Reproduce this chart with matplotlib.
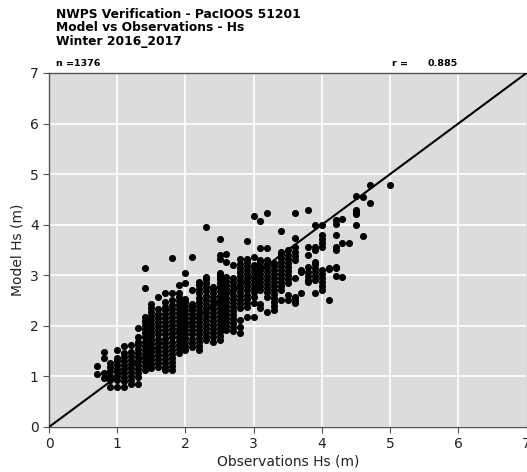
import matplotlib
matplotlib.use("Agg")
import matplotlib.pyplot as plt

# Observed Hs columns (m) and the model Hs values read at each column
obs_hs = [0.7, 0.8, 0.9, 1.0, 1.1, 1.2, 1.3, 1.4, 1.5, 1.6, 1.7, 1.8, 1.9,
          2.0, 2.1, 2.2, 2.3, 2.4, 2.5, 2.6, 2.7, 2.8, 2.9, 3.0, 3.1, 3.2,
          3.3, 3.4, 3.5, 3.6, 3.7, 3.8, 3.9, 4.0, 4.1, 4.2, 4.3, 4.4, 4.5,
          4.6, 4.7, 5.0]

model_hs = [
    [1.05, 1.2],
    [0.97, 1.06, 1.36, 1.49],
    [0.8, 0.93, 1.0, 1.1, 1.18, 1.26],
    [0.8, 0.93, 1.0, 1.08, 1.15, 1.22, 1.3, 1.36, 1.53],
    [0.8, 0.9, 0.98, 1.06, 1.14, 1.22, 1.3, 1.38, 1.46, 1.6],
    [0.86, 0.93, 1.01, 1.09, 1.17, 1.25, 1.33, 1.41, 1.49, 1.62],
    [0.86, 0.99, 1.07, 1.15, 1.23, 1.31, 1.39, 1.47, 1.55, 1.62, 1.69, 1.78, 1.95],
    [1.13, 1.21, 1.29, 1.37, 1.45, 1.53, 1.61, 1.69, 1.77, 1.85, 1.93, 2.01, 2.09, 2.18, 2.74, 3.14],
    [1.16, 1.24, 1.32, 1.4, 1.48, 1.56, 1.64, 1.72, 1.8, 1.88, 1.96, 2.04, 2.12, 2.2, 2.28, 2.36, 2.44],
    [1.19, 1.27, 1.35, 1.43, 1.51, 1.59, 1.67, 1.75, 1.83, 1.91, 1.99, 2.07, 2.15, 2.23, 2.33, 2.58],
    [1.13, 1.19, 1.27, 1.35, 1.43, 1.51, 1.59, 1.67, 1.75, 1.83, 1.91, 1.99, 2.07, 2.15, 2.23, 2.31, 2.38, 2.48, 2.64],
    [1.13, 1.21, 1.29, 1.37, 1.45, 1.53, 1.61, 1.69, 1.77, 1.85, 1.93, 2.01, 2.09, 2.17, 2.25, 2.33, 2.42, 2.51, 2.64, 3.35],
    [1.46, 1.54, 1.62, 1.7, 1.78, 1.86, 1.94, 2.02, 2.1, 2.18, 2.26, 2.34, 2.42, 2.5, 2.57, 2.64, 2.81],
    [1.52, 1.6, 1.68, 1.76, 1.84, 1.92, 2.0, 2.08, 2.16, 2.24, 2.32, 2.4, 2.47, 2.54, 2.84, 3.04],
    [1.59, 1.67, 1.75, 1.83, 1.91, 1.99, 2.07, 2.15, 2.23, 2.31, 2.38, 2.44, 2.71, 3.37],
    [1.52, 1.6, 1.68, 1.76, 1.84, 1.92, 2.0, 2.08, 2.16, 2.24, 2.32, 2.4, 2.48, 2.56, 2.64, 2.72, 2.8, 2.87],
    [1.72, 1.8, 1.88, 1.96, 2.04, 2.12, 2.2, 2.28, 2.36, 2.44, 2.52, 2.6, 2.68, 2.76, 2.84, 2.92, 2.97, 3.96],
    [1.69, 1.77, 1.85, 1.93, 2.01, 2.09, 2.17, 2.25, 2.33, 2.41, 2.49, 2.57, 2.65, 2.72, 2.77],
    [1.72, 1.8, 1.88, 1.96, 2.04, 2.12, 2.2, 2.28, 2.36, 2.44, 2.52, 2.6, 2.68, 2.76, 2.84, 2.92, 2.98, 3.04, 3.33, 3.4, 3.71],
    [1.92, 2.0, 2.08, 2.16, 2.24, 2.32, 2.4, 2.48, 2.56, 2.64, 2.72, 2.8, 2.88, 2.97, 3.27, 3.43],
    [1.9, 1.98, 2.06, 2.14, 2.22, 2.3, 2.38, 2.46, 2.54, 2.62, 2.7, 2.78, 2.86, 2.94, 3.2],
    [1.85, 1.98, 2.12, 2.35, 2.43, 2.51, 2.59, 2.67, 2.75, 2.83, 2.91, 2.99, 3.07, 3.15, 3.23, 3.33],
    [2.18, 2.38, 2.46, 2.54, 2.62, 2.7, 2.78, 2.86, 2.94, 3.02, 3.1, 3.18, 3.26, 3.33, 3.68],
    [2.18, 2.45, 2.58, 2.66, 2.74, 2.82, 2.9, 2.98, 3.06, 3.14, 3.2, 3.37, 4.17],
    [2.35, 2.44, 2.71, 2.79, 2.87, 2.95, 3.03, 3.11, 3.19, 3.27, 3.3, 3.53, 4.08],
    [2.28, 2.58, 2.66, 2.74, 2.82, 2.9, 2.98, 3.06, 3.14, 3.22, 3.3, 3.53, 4.24],
    [2.31, 2.39, 2.47, 2.55, 2.63, 2.71, 2.79, 2.87, 2.95, 3.03, 3.11, 3.19, 3.24],
    [2.51, 2.71, 2.79, 2.87, 2.95, 3.03, 3.11, 3.19, 3.27, 3.35, 3.43, 3.46, 3.88],
    [2.51, 2.61, 2.84, 2.92, 3.0, 3.08, 3.16, 3.24, 3.32, 3.4, 3.5],
    [2.45, 2.51, 2.58, 2.94, 3.3, 3.38, 3.46, 3.56, 3.73, 4.24],
    [2.64, 3.07, 3.1],
    [2.87, 2.9, 2.98, 3.06, 3.17, 3.4, 3.56, 4.29],
    [2.64, 2.9, 2.98, 3.06, 3.14, 3.22, 3.27, 3.5, 3.56, 3.99],
    [2.71, 2.79, 2.87, 2.95, 3.03, 3.1, 3.56, 3.64, 3.72, 3.79, 3.99],
    [2.51, 3.12, 3.14],
    [2.98, 3.14, 3.17, 3.5, 3.56, 3.79, 4.02, 4.09],
    [2.97, 3.63, 4.11],
    [3.63],
    [3.99, 4.22, 4.25, 4.29, 4.56],
    [3.77, 4.54],
    [4.43, 4.78],
    [4.78],
]

axis_ticks = [0, 1, 2, 3, 4, 5, 6, 7]
title_lines = ["NWPS Verification - PacIOOS 51201",
               "Model vs Observations - Hs",
               "Winter 2016_2017"]
n_obs = 1376
r_value = 0.885

xs, ys = [], []
for xo, col in zip(obs_hs, model_hs):
    for v in col:
        xs.append(xo)
        ys.append(v)

W, H = 527, 472
fig = plt.figure(figsize=(W / 100, H / 100), dpi=100)
left, right, top, bottom = 49, 526.5, 73, 427
ax = fig.add_axes([left / W, (H - bottom) / H, (right - left) / W, (bottom - top) / H])
ax.set_facecolor("#DCDCDC")
ax.set_xlim(0, 7)
ax.set_ylim(0, 7)
ax.set_xticks(axis_ticks)
ax.set_yticks(axis_ticks)
ax.grid(True, color="white", linewidth=1.2)
ax.set_axisbelow(True)
for s in ax.spines.values():
    s.set_color("#555555")
    s.set_linewidth(1.0)
ax.tick_params(direction="out", length=4, color="#555555", labelsize=10,
               labelcolor="#222222")

ax.scatter(xs, ys, s=26, color="black", zorder=3, linewidths=0)
ax.plot([0, 7], [0, 7], color="black", linewidth=1.5, zorder=4)

ax.set_xlabel("Observations Hs (m)", fontsize=10, color="#222222", labelpad=2)
ax.set_ylabel("Model Hs (m)", fontsize=10, color="#222222", labelpad=4)

for i, line in enumerate(title_lines):
    fig.text(56 / W, 1 - (14 + 13.5 * i) / H, line, fontsize=8.8,
             fontweight="bold", va="center", ha="left")

fig.text(56 / W, 1 - 63 / H, "n =%d" % n_obs, fontsize=6.8,
         fontweight="bold", va="center", ha="left")
fig.text(392 / W, 1 - 63 / H, "r =", fontsize=6.8,
         fontweight="bold", va="center", ha="left")
fig.text(428 / W, 1 - 63 / H, "%.3f" % r_value, fontsize=6.8,
         fontweight="bold", va="center", ha="left")

fig.savefig("out.png", dpi=100)
